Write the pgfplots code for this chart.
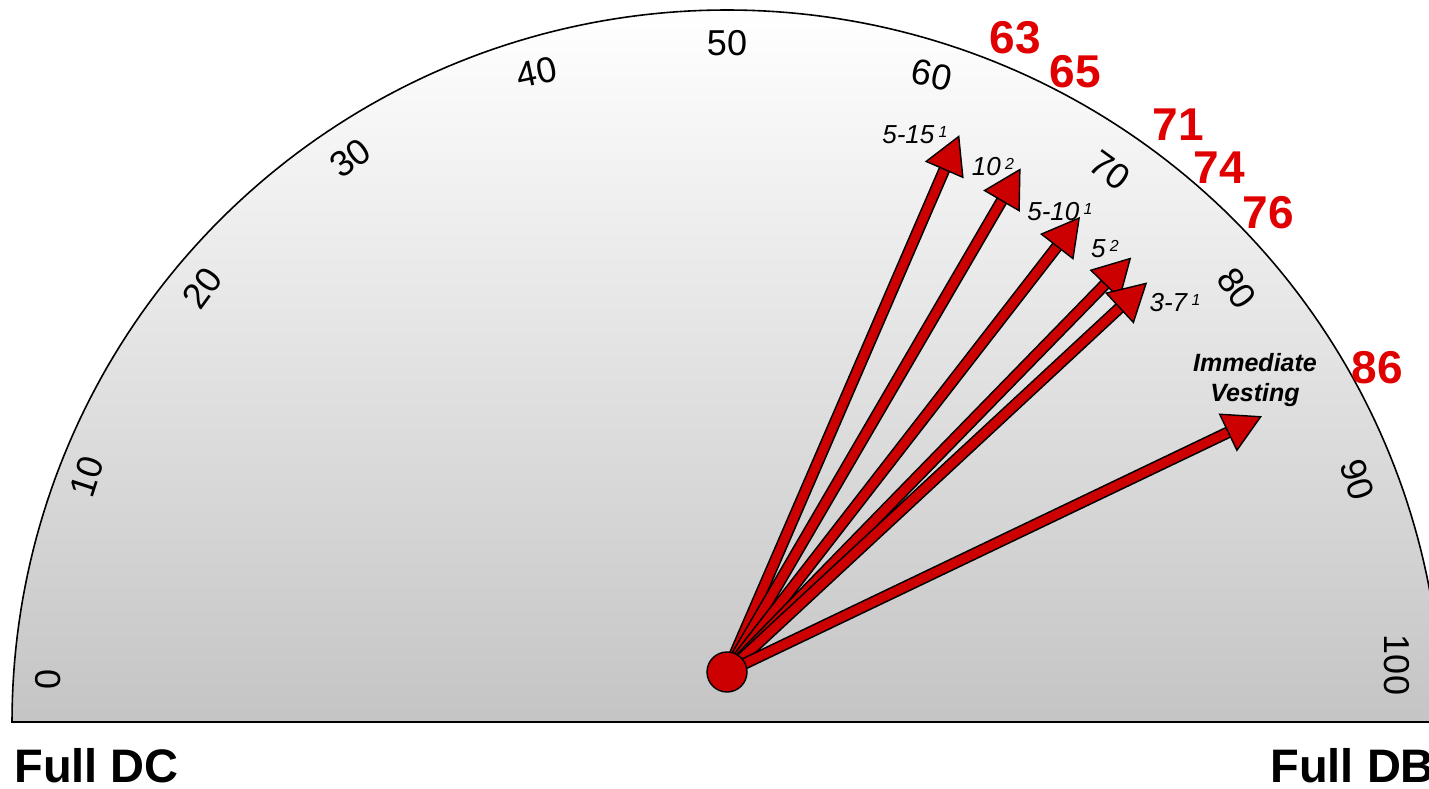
\documentclass[border=0pt]{standalone}
\usepackage{pgfplots}
\pgfplotsset{compat=1.18}
\usepackage{pgfplotstable}
\usepackage{fontspec}
\setmainfont{Liberation Sans}
\usetikzlibrary{arrows.meta}
\definecolor{arrowred}{HTML}{CC0000}
\definecolor{numred}{HTML}{E00000}

% arrow position on the 0-100 dial and arrow length (px)
\pgfplotstableread{
val len
63.0 585
66.8 583
71.0 576
74.6 579
76.2 573
85.8 593
}\arrowdata

\newcommand{\sups}[1]{\,{\fontsize{8}{8}\selectfont\raisebox{0.75ex}{#1}}}
\tikzset{
  ticklab/.style={font=\fontsize{18}{18}\selectfont},
  rednum/.style={font=\fontsize{23}{23}\selectfont\bfseries, text=numred},
  arrlab/.style={font=\fontsize{13}{13}\selectfont\itshape},
  endlab/.style={anchor=west, inner sep=0pt, font=\fontsize{23.5}{24}\selectfont\bfseries},
}

\begin{document}
\begin{tikzpicture}
\begin{axis}[x=0.5pt, y=0.5pt, hide axis, clip=false,
  xmin=-727, xmax=702, ymin=-66, ymax=722]

% dial face
\addplot[draw=black, line width=0.8pt, top color=white, bottom color=black!23,
  domain=0:180, samples=181] ({715*cos(x)},{712*sin(x)}) \closedcycle;

% arrows
\pgfplotsinvokeforeach{0,...,5}{
\addplot[draw=black, line width=6pt, restrict expr to domain={\coordindex}{#1:#1},
  quiver={u=\thisrow{len}*cos(180-1.8*\thisrow{val}),
          v=\thisrow{len}*sin(180-1.8*\thisrow{val}),
          every arrow/.append style={shorten >=15pt}}]
  table[x expr=0, y expr=50] {\arrowdata};
\addplot[draw=arrowred, line width=4.4pt, restrict expr to domain={\coordindex}{#1:#1},
  quiver={u=\thisrow{len}*cos(180-1.8*\thisrow{val}),
          v=\thisrow{len}*sin(180-1.8*\thisrow{val}),
          every arrow/.append style={-{Triangle[length=19pt, width=21pt, line width=0.7pt, color=black, fill=arrowred]}}}]
  table[x expr=0, y expr=50] {\arrowdata};
}

% pivot
\addplot[only marks, mark=*, mark size=10pt,
  mark options={fill=arrowred, draw=black, line width=0.7pt}] coordinates {(0,50)};

% dial numbers
\node[ticklab, rotate=90]  at (axis cs:-679,43)  {0};
\node[ticklab, rotate=72]  at (axis cs:-640,245) {10};
\node[ticklab, rotate=54]  at (axis cs:-525,434) {20};
\node[ticklab, rotate=36]  at (axis cs:-377,564) {30};
\node[ticklab, rotate=12]  at (axis cs:-190,650) {40};
\node[ticklab, rotate=0]   at (axis cs:0,679)    {50};
\node[ticklab, rotate=-12] at (axis cs:205,647)  {60};
\node[ticklab, rotate=-36] at (axis cs:383,552)  {70};
\node[ticklab, rotate=-54] at (axis cs:510,434)  {80};
\node[ticklab, rotate=-72] at (axis cs:630,242)  {90};
\node[ticklab, rotate=-90] at (axis cs:670,57)   {100};

% red values
\node[rednum] at (axis cs:288,684) {63};
\node[rednum] at (axis cs:348,650) {65};
\node[rednum] at (axis cs:451,597) {71};
\node[rednum] at (axis cs:492,554) {74};
\node[rednum] at (axis cs:541,509) {76};
\node[rednum] at (axis cs:650,354) {86};

% arrow labels
\node[arrlab] at (axis cs:188,587) {5-15\sups{1}};
\node[arrlab] at (axis cs:266,555) {10\sups{2}};
\node[arrlab] at (axis cs:333,510) {5-10\sups{1}};
\node[arrlab] at (axis cs:378,473) {5\sups{2}};
\node[arrlab] at (axis cs:448,419) {3-7\sups{1}};
\node[align=center, font=\fontsize{12.5}{15}\selectfont\bfseries\itshape] at (axis cs:528,342) {Immediate\\Vesting};

\node[endlab] at (axis cs:-713,-44) {Full DC};
\node[endlab] at (axis cs:543,-44) {Full DB};

\coordinate (bl) at (axis cs:-727,-66);
\coordinate (tr) at (axis cs:702,722);
\end{axis}
\pgfresetboundingbox
\path[use as bounding box] (bl) rectangle (tr);
\end{tikzpicture}
\end{document}
